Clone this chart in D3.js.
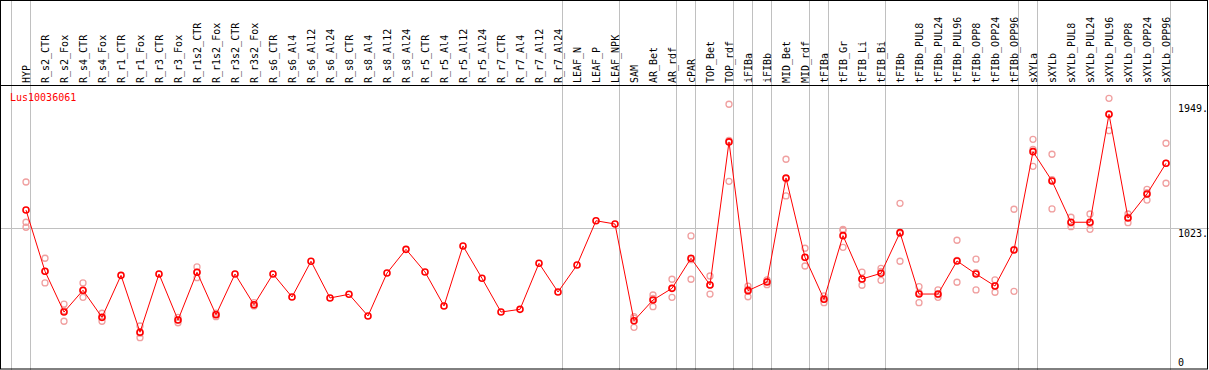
<!DOCTYPE html>
<html>
<head>
<meta charset="utf-8">
<script src="https://cdn.jsdelivr.net/npm/d3@7"></script>
<style>
  body { margin: 0; background: #fff; }
  text { font-family: "DejaVu Sans Mono", monospace; font-size: 10px; }
</style>
</head>
<body>
<svg id="chart" width="1209" height="370"></svg>
<script>
// sample names, in column order
const samples = ["HYP", "R_s2_CTR", "R_s2_Fox", "R_s4_CTR", "R_s4_Fox", "R_r1_CTR", "R_r1_Fox",
  "R_r3_CTR", "R_r3_Fox", "R_r1s2_CTR", "R_r1s2_Fox", "R_r3s2_CTR", "R_r3s2_Fox",
  "R_s6_CTR", "R_s6_Al4", "R_s6_Al12", "R_s6_Al24", "R_s8_CTR", "R_s8_Al4", "R_s8_Al12", "R_s8_Al24",
  "R_r5_CTR", "R_r5_Al4", "R_r5_Al12", "R_r5_Al24", "R_r7_CTR", "R_r7_Al4", "R_r7_Al12", "R_r7_Al24",
  "LEAF_N", "LEAF_P", "LEAF_NPK", "SAM", "AR_Bet", "AR_rdf", "cPAR", "TOP_Bet", "TOP_rdf",
  "iFIBa", "iFIBb", "MID_Bet", "MID_rdf", "tFIBa", "tFIB_Gr", "tFIB_Li", "tFIB_Bi",
  "tFIBb", "tFIBb_PUL8", "tFIBb_PUL24", "tFIBb_PUL96", "tFIBb_OPP8", "tFIBb_OPP24", "tFIBb_OPP96",
  "sXYLa", "sXYLb", "sXYLb_PUL8", "sXYLb_PUL24", "sXYLb_PUL96", "sXYLb_OPP8", "sXYLb_OPP24", "sXYLb_OPP96"];

// mean expression per sample
const means = [1155, 703, 402, 563, 363, 673, 253, 683, 343, 696, 382, 683, 456,
  683, 513, 777, 506, 533, 373, 690, 865, 698, 447, 890, 651, 402, 422, 762, 550,
  749, 1076, 1052, 338, 491, 577, 799, 602, 1658,
  560, 624, 1392, 806, 496, 966, 646, 688,
  988, 535, 535, 779, 683, 594, 860,
  1586, 1370, 1065, 1065, 1862, 1096, 1274, 1500];

// replicates (null = no replicate shown)
const rep1 = [1362, 799, 461, 617, 393, null, 299, null, 363, 735, 393, null, 471,
  null, null, null, null, null, null, null, null, null, null, null, null, null, null, null, null,
  null, null, null, 368, 528, 644, 964, 668, 1936,
  594, 639, 1530, 873, 521, 1013, 696, 725,
  1205, 589, 565, 932, 792, 639, 1161,
  1677, 1567, 1102, 1126, 1980, 1126, 1308, 1648];
const rep2 = [1028, 617, 334, 511, 334, null, 213, null, 323, 656, 368, null, 447,
  null, null, null, null, null, null, null, null, null, null, null, null, null, null, null, null,
  null, null, null, 289, 442, 511, 644, 535, 1367,
  515, 604, 1259, 742, 471, 880, 600, 636,
  777, 471, 511, 622, 565, 548, 555,
  1478, 1163, 1032, 1013, 1741, 1062, 1229, 1353];
const rep3 = [1065, 703, 412, 560, 363, null, 246, null, 343, 696, 386, null, 451,
  null, null, null, null, null, null, null, null, null, null, null, null, null, null, null, null,
  null, null, null, 357, 503, 577, 789, 602, 1669,
  569, 629, 1386, 804, 497, 1004, 643, 703,
  982, 546, 530, 783, 693, 597, 865,
  1602, 1379, 1060, 1055, 1865, 1102, 1283, 1500];

// first sample of each tissue group (gray separators)
const groupStarts = ["HYP", "R_s2_CTR", "LEAF_N", "SAM", "cPAR", "TOP_Bet", "iFIBa", "iFIBb",
  "MID_Bet", "tFIBa", "tFIB_Gr", "tFIBb", "sXYLa", "sXYLb"];

const yTicks = [0, 1023, 1949];
const geneName = "Lus10036061";

const svg = d3.select("#chart");
const width = +svg.attr("width");
const height = +svg.attr("height");
const headerY = 85.5;

const x = d3.scalePoint().domain(samples).range([26, 1166]);
const y = d3.scaleLinear().domain([0, 1949]).range([366.5, 102.5]);
const plotRight = x(samples[samples.length - 1]) + 4;

svg.append("rect").attr("width", width).attr("height", height).attr("fill", "#fff");

// gridline at the middle value
svg.append("line")
  .attr("x1", 1).attr("x2", width)
  .attr("y1", Math.round(y(1023)) + 0.5).attr("y2", Math.round(y(1023)) + 0.5)
  .attr("stroke", "#c0c0c0");

// group separators, full height
const seps = groupStarts.map(s => x(s) - 15).concat([plotRight]);
svg.selectAll("line.sep").data(seps).join("line")
  .attr("class", "sep")
  .attr("x1", d => Math.round(d) + 0.5).attr("x2", d => Math.round(d) + 0.5)
  .attr("y1", 0).attr("y2", height)
  .attr("stroke", "#c0c0c0");

// header line + outer frame
svg.append("line").attr("x1", 0).attr("x2", width).attr("y1", headerY).attr("y2", headerY)
  .attr("stroke", "#000");
svg.append("rect").attr("x", 0.5).attr("y", 0.5).attr("width", width - 2).attr("height", height - 1.5)
  .attr("fill", "none").attr("stroke", "#000");

// rotated sample labels
svg.selectAll("text.lab").data(samples).join("text")
  .attr("class", "lab")
  .attr("transform", d => `translate(${x(d) + 3.5},83) rotate(-90)`)
  .attr("fill", "#000")
  .text(d => d);

svg.append("text").attr("x", 10).attr("y", 101).attr("fill", "red").text(geneName);

// right axis
const axis = d3.axisRight(y).tickValues(yTicks).tickSize(0)
  .tickFormat(d => d === 0 ? "0" : d + ".");
const gAxis = svg.append("g").attr("transform", `translate(${plotRight + 4},0)`).call(axis);
gAxis.select(".domain").remove();
gAxis.selectAll("text")
  .attr("x", 4)
  .attr("dy", d => d === 0 ? "-0.1em" : "0.85em")
  .attr("fill", "#000")
  .style("font-family", "DejaVu Sans Mono, monospace").style("font-size", "10px");

// replicate circles
const reps = [];
[rep1, rep2, rep3].forEach(arr => arr.forEach((v, i) => {
  if (v !== null) reps.push({ s: samples[i], v: v });
}));
svg.selectAll("circle.rep").data(reps).join("circle")
  .attr("class", "rep")
  .attr("cx", d => x(d.s)).attr("cy", d => y(d.v)).attr("r", 3)
  .attr("fill", "none").attr("stroke", "#f0a0a0").attr("stroke-width", 1.3);

// mean line and markers
const pts = samples.map((s, i) => ({ s: s, v: means[i] }));
svg.append("path").datum(pts)
  .attr("d", d3.line().x(d => x(d.s)).y(d => y(d.v)))
  .attr("fill", "none").attr("stroke", "red").attr("stroke-width", 1);

svg.selectAll("circle.mean").data(pts).join("circle")
  .attr("class", "mean")
  .attr("cx", d => x(d.s)).attr("cy", d => y(d.v)).attr("r", 3)
  .attr("fill", "none").attr("stroke", "red").attr("stroke-width", 1.6);
</script>
</body>
</html>
